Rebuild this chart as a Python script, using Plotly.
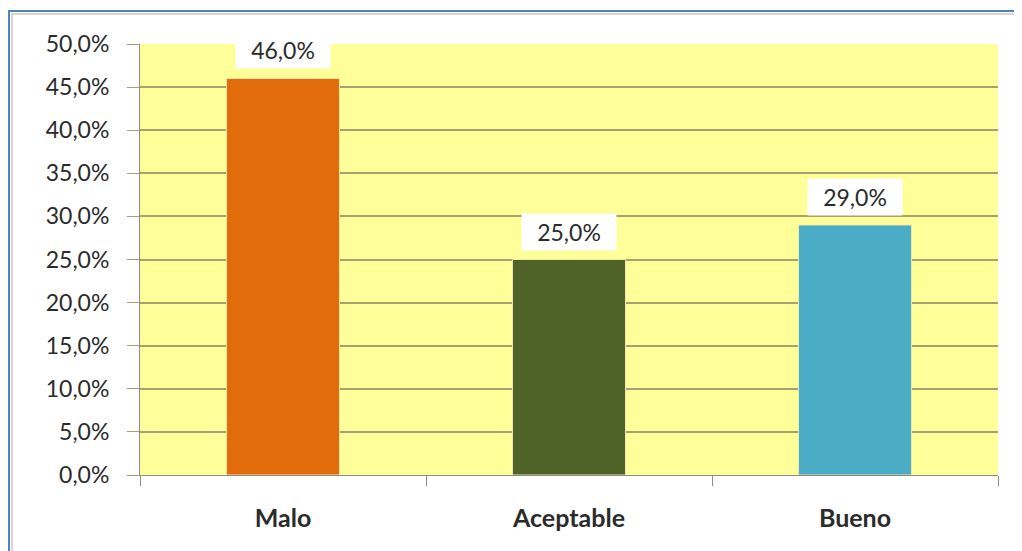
import plotly.graph_objects as go

categories = ["Malo", "Aceptable", "Bueno"]
values = [46.0, 25.0, 29.0]
labels = ["46,0%", "25,0%", "29,0%"]
colors = ["#E36C0A", "#4F6228", "#4BACC6"]
y_ticks = [0, 5, 10, 15, 20, 25, 30, 35, 40, 45, 50]
y_tick_labels = ["0,0%", "5,0%", "10,0%", "15,0%", "20,0%", "25,0%",
                 "30,0%", "35,0%", "40,0%", "45,0%", "50,0%"]

W, H = 1014, 543
L, R, T, B = 132, 24, 36, 76
PW, PH = W - L - R, H - T - B

fig = go.Figure()
fig.add_trace(go.Bar(
    x=categories, y=values,
    marker=dict(color=colors, line=dict(color="#F3E7A8", width=1)),
    width=0.395,
    hoverinfo="skip",
))

for c, v, t in zip(categories, values, labels):
    fig.add_annotation(
        x=c, y=v, text=t, showarrow=False, yanchor="bottom",
        yshift=9, bgcolor="white", borderpad=4, width=86,
        font=dict(family="Lato", size=23, color="#2B2B2B"),
    )

fig.update_layout(
    width=W, height=H,
    margin=dict(l=L, r=R, t=T, b=B),
    paper_bgcolor="white",
    plot_bgcolor="#FFFF99",
    showlegend=False,
    font=dict(family="Lato", size=17, color="#2B2B2B"),
    shapes=[
        dict(type="rect", xref="paper", yref="paper",
             x0=-(L - 1) / PW, x1=1.2, y0=-1, y1=1 + (T - 3) / PH,
             line=dict(color="#4F81BD", width=2), fillcolor="rgba(0,0,0,0)", layer="below"),
        dict(type="rect", xref="paper", yref="paper",
             x0=-(L - 4) / PW, x1=1.2, y0=-1, y1=1 + (T - 6) / PH,
             line=dict(color="#C8C8C8", width=1.5), fillcolor="rgba(0,0,0,0)", layer="below"),
    ],
)
fig.update_xaxes(
    showline=True, linecolor="#8C8C8C", linewidth=1,
    ticks="outside", tickson="boundaries", ticklen=10, tickcolor="#8C8C8C",
    ticklabelstandoff=21,
    tickfont=dict(family="Lato", size=25, color="#2B2B2B", weight="bold"),
    showgrid=False,
)
fig.update_yaxes(
    range=[0, 50], tickvals=y_ticks, ticktext=y_tick_labels,
    showline=True, linecolor="#8C8C8C", linewidth=1,
    showgrid=True, gridcolor="#A8A070", gridwidth=1.5,
    ticks="outside", ticklen=12, tickcolor="#A8A070",
    ticklabelstandoff=13,
    tickfont=dict(family="Lato", size=23, color="#2B2B2B"),
    zeroline=False,
)

fig.write_html("out.html")
